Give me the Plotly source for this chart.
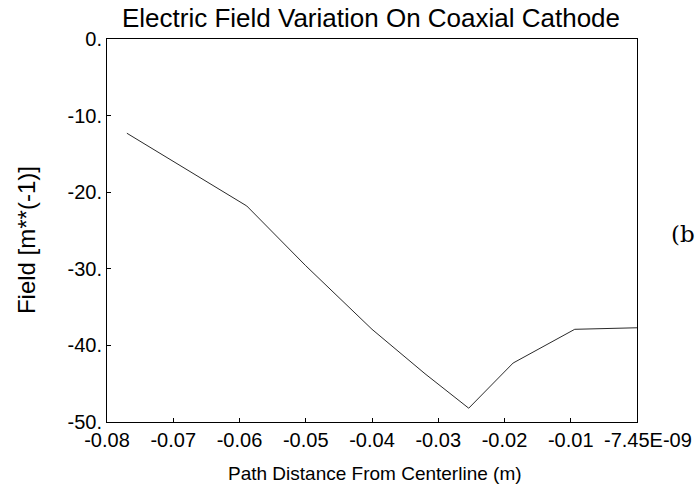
import plotly.graph_objects as go

distance = [-0.0770, -0.0589, -0.0500, -0.0400, -0.0320, -0.0254, -0.0187, -0.0094, 0.0]
field = [-12.3, -21.8, -29.6, -37.9, -43.7, -48.2, -42.3, -37.9, -37.7]

x_tick_vals = [-0.08, -0.07, -0.06, -0.05, -0.04, -0.03, -0.02, -0.01, -7.45e-09]
x_tick_text = ["-0.08", "-0.07", "-0.06", "-0.05", "-0.04", "-0.03", "-0.02", "-0.01",
               "-7.45E-09"]
y_tick_vals = [0, -10, -20, -30, -40, -50]
y_tick_text = ["0.", "-10.", "-20.", "-30.", "-40.", "-50."]

fig = go.Figure()
fig.add_trace(go.Scatter(x=distance, y=field, mode="lines",
                         line=dict(color="#2a2a2a", width=1), showlegend=False))

font_family = "Liberation Sans, Arial, sans-serif"
fig.update_layout(
    width=700, height=494,
    margin=dict(l=107, r=63, t=39, b=72),
    paper_bgcolor="white", plot_bgcolor="white",
    font=dict(family=font_family, color="black", size=20),
    title=dict(text="Electric Field Variation On Coaxial Cathode",
               x=0.530, xanchor="center", y=0.9636, yanchor="middle",
               font=dict(size=26, family=font_family, color="black")),
    xaxis=dict(range=[-0.08, 0.0], tickvals=x_tick_vals,
               ticktext=x_tick_text[:-1] + [""],
               showgrid=False, zeroline=False, showline=True, linecolor="black",
               linewidth=1, mirror=True, ticks="inside", ticklen=4, tickcolor="black",
               tickfont=dict(size=20), tickangle=0, ticklabeloverflow="allow",
               automargin=False),
    yaxis=dict(range=[-50, 0], tickvals=y_tick_vals, ticktext=y_tick_text,
               showgrid=False, zeroline=False, showline=True, linecolor="black",
               linewidth=1, mirror=True, ticks="inside", ticklen=4, tickcolor="black",
               tickfont=dict(size=20), automargin=False),
)
# last x tick label, nudged right as in the original so it clears "-0.01"
fig.add_annotation(text=x_tick_text[-1], xref="x", yref="paper",
                   x=x_tick_vals[-1], y=0, xshift=11, yshift=-18,
                   xanchor="center", yanchor="middle", showarrow=False,
                   font=dict(size=20, family=font_family, color="black"))
fig.add_annotation(text="Path Distance From Centerline (m)", xref="paper", yref="paper",
                   x=0.506, y=0, yshift=-51, xanchor="center", yanchor="middle",
                   showarrow=False, font=dict(size=19, family=font_family, color="black"))
fig.add_annotation(text="Field [m**(-1)]", xref="paper", yref="paper",
                   x=0, xshift=-81, y=0.475, xanchor="center", yanchor="middle",
                   textangle=-90, showarrow=False,
                   font=dict(size=24, family=font_family, color="black"))
fig.add_annotation(text="(b", xref="paper", yref="paper", x=1.0604, y=0.49,
                   xanchor="left", yanchor="middle", showarrow=False,
                   font=dict(size=23, family="DejaVu Serif, serif", color="black"))

fig.write_html("out.html", config={"displayModeBar": False},
               post_script="document.body.style.margin='0';document.body.style.padding='0';")
